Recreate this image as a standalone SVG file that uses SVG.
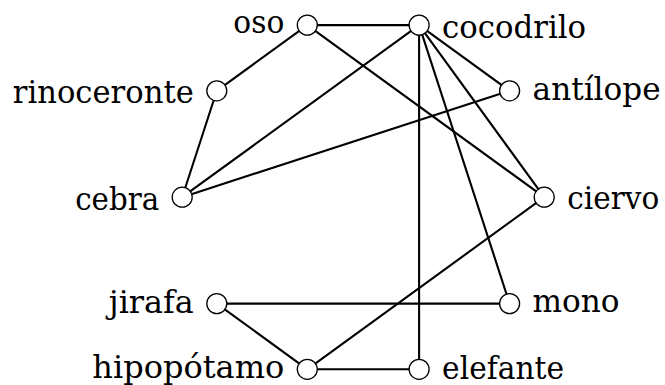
<svg xmlns="http://www.w3.org/2000/svg" width="665" height="385" viewBox="0 0 665 385">
<style>
.e{stroke:#000;stroke-width:2.1;fill:none;stroke-linecap:round}
.n circle{fill:#fff;stroke:#000;stroke-width:1.3}
.n text{font-family:"DejaVu Serif","Liberation Serif",serif;font-size:31px;fill:#000}
.l{text-anchor:end}
</style>
<rect width="665" height="385" fill="#fff"/>
<g id="edges">
<line class="e" x1="307.3" y1="25.1" x2="419.1" y2="25.1"/>
<line class="e" x1="307.3" y1="25.1" x2="216.8" y2="90.8"/>
<line class="e" x1="307.3" y1="25.1" x2="544.2" y2="197.2"/>
<line class="e" x1="216.8" y1="90.8" x2="182.2" y2="197.2"/>
<line class="e" x1="419.1" y1="25.1" x2="182.2" y2="197.2"/>
<line class="e" x1="419.1" y1="25.1" x2="509.6" y2="90.8"/>
<line class="e" x1="419.1" y1="25.1" x2="544.2" y2="197.2"/>
<line class="e" x1="419.1" y1="25.1" x2="509.6" y2="303.6"/>
<line class="e" x1="419.1" y1="25.1" x2="419.1" y2="369.3"/>
<line class="e" x1="509.6" y1="90.8" x2="182.2" y2="197.2"/>
<line class="e" x1="544.2" y1="197.2" x2="307.3" y2="369.3"/>
<line class="e" x1="216.8" y1="303.6" x2="509.6" y2="303.6"/>
<line class="e" x1="216.8" y1="303.6" x2="307.3" y2="369.3"/>
<line class="e" x1="307.3" y1="369.3" x2="419.1" y2="369.3"/>
</g>
<g id="oso" class="n"><circle cx="307.3" cy="25.1" r="10"/><text class="l" x="284.3" y="33" textLength="51" lengthAdjust="spacingAndGlyphs">oso</text></g>
<g id="cocodrilo" class="n"><circle cx="419.1" cy="25.1" r="10"/><text x="442.1" y="37.8" textLength="144" lengthAdjust="spacingAndGlyphs">cocodrilo</text></g>
<g id="antilope" class="n"><circle cx="509.6" cy="90.8" r="10"/><text x="532.6" y="99.9" textLength="128" lengthAdjust="spacingAndGlyphs">antílope</text></g>
<g id="ciervo" class="n"><circle cx="544.2" cy="197.2" r="10"/><text x="567.2" y="208.6" textLength="92" lengthAdjust="spacingAndGlyphs">ciervo</text></g>
<g id="mono" class="n"><circle cx="509.6" cy="303.6" r="10"/><text x="532.6" y="311.5" textLength="87" lengthAdjust="spacingAndGlyphs">mono</text></g>
<g id="elefante" class="n"><circle cx="419.1" cy="369.3" r="10"/><text x="442.1" y="379" textLength="122" lengthAdjust="spacingAndGlyphs">elefante</text></g>
<g id="hipopotamo" class="n"><circle cx="307.3" cy="369.3" r="10"/><text class="l" x="284.3" y="378" textLength="192" lengthAdjust="spacingAndGlyphs">hipopótamo</text></g>
<g id="jirafa" class="n"><circle cx="216.8" cy="303.6" r="10"/><text class="l" x="193.8" y="312.7" textLength="85" lengthAdjust="spacingAndGlyphs">jirafa</text></g>
<g id="cebra" class="n"><circle cx="182.2" cy="197.2" r="10"/><text class="l" x="159.2" y="209.6" textLength="84" lengthAdjust="spacingAndGlyphs">cebra</text></g>
<g id="rinoceronte" class="n"><circle cx="216.8" cy="90.8" r="10"/><text class="l" x="193.8" y="103" textLength="181" lengthAdjust="spacingAndGlyphs">rinoceronte</text></g>
</svg>
